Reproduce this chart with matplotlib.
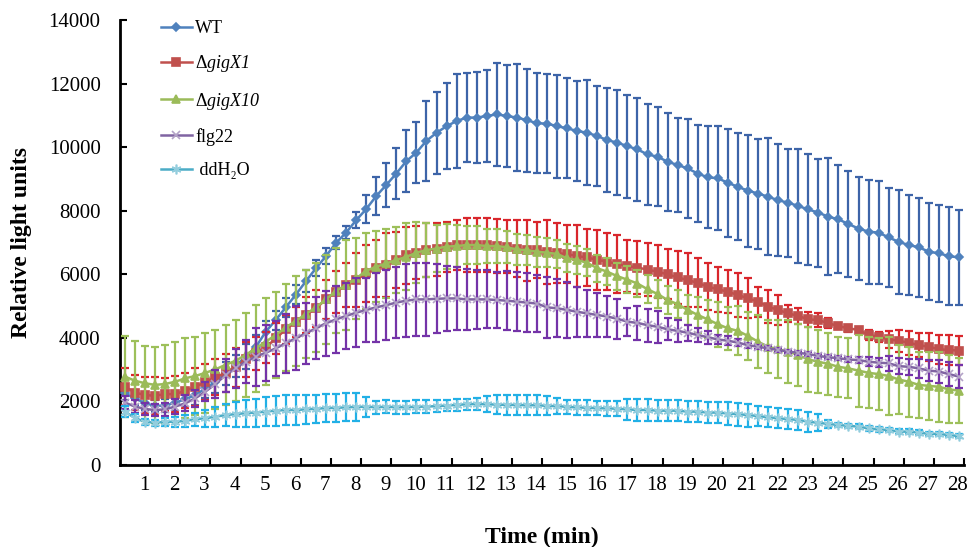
import numpy as np
import matplotlib
matplotlib.use("Agg")
from matplotlib import pyplot as plt

plt.rcParams['font.family'] = ['Liberation Serif', 'DejaVu Serif']
plt.rcParams['mathtext.fontset'] = 'custom'
plt.rcParams['mathtext.rm'] = 'Liberation Serif:italic'
plt.rcParams['mathtext.it'] = 'Liberation Serif:italic'

# readings every 20 s, 84 samples
time_min = (np.arange(84) + 0.5) / 3

wt = [2250, 2100, 1940, 1860, 1870, 1960, 2070, 2200, 2410, 2620, 2880, 3110, 3410, 3700,
      4190, 4560, 4960, 5360, 5780, 6190, 6570, 6990, 7310, 7700, 8050, 8460, 8810, 9170,
      9560, 9830, 10200, 10450, 10660, 10820, 10930, 10930, 10980, 11030, 10980, 10930,
      10850, 10750, 10740, 10660, 10590, 10510, 10450, 10350, 10220, 10140,
      10030, 9930, 9770, 9700, 9540, 9440, 9330, 9170, 9050, 9020, 8880, 8750, 8630, 8540,
      8440, 8330, 8250, 8150, 8040, 7940, 7810, 7730, 7580, 7440, 7340, 7310, 7160, 7020,
      6920, 6850, 6710, 6660, 6570, 6530]
wt_err = [200, 200, 200, 200, 200, 250, 250, 300, 300, 350, 350, 350, 400, 400, 350, 300,
          300, 300, 350, 250, 250, 200, 200, 250, 440, 600, 690, 790, 975, 970, 1250, 1280,
          1360, 1470, 1400, 1420, 1450, 1620, 1600, 1680, 1620, 1570, 1550, 1620, 1570, 1570,
          1650, 1570, 1630, 1650,
          1620, 1610, 1590, 1550, 1540, 1470, 1570, 1520, 1600, 1630, 1700, 1680, 1760, 1730,
          1840, 1760, 1700, 1800, 1750, 1700, 1840, 1700, 1660, 1630, 1630, 1610, 1550, 1630,
          1570, 1550, 1520, 1520, 1540, 1500]

gigx1 = [2460, 2280, 2200, 2180, 2230, 2230, 2340, 2460, 2610, 2760, 2900, 3070, 3320, 3510,
         3700, 3980, 4270, 4510, 4720, 4930, 5210, 5450, 5660, 5820, 6030, 6190, 6290, 6450,
         6600, 6680, 6760, 6780, 6870, 6920, 6920, 6920, 6920, 6890, 6870, 6810, 6760, 6760,
         6710, 6660, 6640, 6570, 6530, 6450, 6400, 6320,
         6260, 6210, 6150, 6080, 6000, 5900, 5820, 5730, 5610, 5530, 5450, 5350, 5240, 5140,
         4980, 4880, 4770, 4690, 4580, 4560, 4460, 4370, 4300, 4250, 4090, 4040, 3950, 3910,
         3850, 3770, 3720, 3640, 3620, 3600]
gigx1_err = [580, 560, 570, 590, 520, 560, 540, 600, 560, 560, 600, 620, 560, 520, 500, 480,
             460, 470, 560, 580, 610, 660, 680, 840, 890, 890, 1000, 890, 890, 840, 840, 840,
             790, 790, 840, 840, 840, 840, 840, 910, 960, 890, 1000, 940, 910, 980, 910, 940,
             890, 910,
             820, 840, 820, 840, 790, 840, 840, 770, 730, 710, 680, 680, 630, 470, 520, 470,
             260, 240, 240, 210, 160, 100, 100, 100, 160, 160, 270, 340, 380, 370, 440, 450,
             470, 460]

gigx10 = [2780, 2650, 2570, 2520, 2550, 2620, 2730, 2800, 2900, 3010, 3150, 3280, 3460, 3670,
          3880, 4090, 4330, 4530, 4750, 4960, 5210, 5480, 5660, 5870, 6110, 6240, 6340, 6450,
          6550, 6680, 6760, 6810, 6870, 6890, 6920, 6920, 6890, 6890, 6850, 6780, 6760, 6710,
          6680, 6640, 6500, 6450, 6360, 6190, 6080, 5940,
          5830, 5710, 5530, 5380, 5190, 5060, 4880, 4720, 4580, 4430, 4300, 4220, 4060, 3880,
          3720, 3640, 3570, 3460, 3320, 3250, 3180, 3090, 3040, 2970, 2900, 2860, 2800, 2690,
          2620, 2520, 2490, 2460, 2380, 2340]
gigx10_err = [1280, 1250, 1170, 1190, 1230, 1260, 1260, 1240, 1260, 1240, 1260, 1280, 1330,
              1360, 1360, 1360, 1360, 1410, 1370, 1410, 1390, 1340, 1410, 1280, 1200, 1120,
              1100, 1050, 1050, 950, 850, 750, 700, 650, 600, 600, 550, 550, 500, 500, 480,
              470, 460, 450, 440, 430, 420, 420, 420, 420,
              420, 430, 440, 450, 450, 440, 470, 580, 600, 710, 680, 770, 760, 840, 840, 910,
              990, 990, 1020, 1000, 980, 940, 940, 1130, 1120, 1130, 1230, 1070, 1100, 1050,
              1070, 1100, 1070, 1030]

flg22 = [1960, 1840, 1760, 1730, 1750, 1840, 1940, 2100, 2310, 2550, 2830, 3040, 3250, 3410,
         3530, 3670, 3830, 3990, 4140, 4300, 4460, 4580, 4690, 4790, 4880, 4960, 5030, 5110,
         5170, 5210, 5210, 5230, 5240, 5240, 5210, 5210, 5210, 5190, 5170, 5140, 5110, 5080,
         4960, 4930, 4880, 4820, 4770, 4720, 4670, 4600,
         4510, 4470, 4400, 4350, 4270, 4220, 4160, 4090, 4020, 3950, 3910, 3850, 3770, 3720,
         3670, 3620, 3570, 3530, 3490, 3430, 3390, 3360, 3320, 3300, 3250, 3220, 3200, 3110,
         3090, 3040, 2970, 2940, 2860, 2780]
flg22_err = [200, 200, 200, 200, 210, 230, 250, 260, 300, 440, 520, 610, 680, 910, 890, 860,
             930, 1000, 950, 970, 1020, 1050, 1040, 1080, 1010, 1090, 1100, 1120, 1140, 1150,
             1150, 1080, 1020, 1000, 970, 930, 910, 890, 920, 920, 940, 900, 970, 910, 890,
             790, 730, 680, 650, 630,
             440, 540, 520, 500, 340, 340, 260, 230, 200, 150, 150, 100, 80, 70, 60, 60, 60,
             60, 60, 60, 60, 60, 90, 90, 140, 150, 230, 260, 260, 310, 340, 370, 370, 370]

ddh2o = [1680, 1470, 1360, 1330, 1360, 1360, 1390, 1440, 1470, 1520, 1570, 1600, 1630, 1650,
         1680, 1710, 1730, 1730, 1750, 1770, 1790, 1800, 1810, 1830, 1830, 1820, 1830, 1820,
         1820, 1830, 1840, 1850, 1870, 1890, 1910, 1920, 1910, 1900, 1890, 1890, 1880, 1880,
         1860, 1850, 1830, 1810, 1800, 1790, 1780, 1770,
         1750, 1730, 1730, 1710, 1710, 1710, 1680, 1680, 1650, 1650, 1620, 1600, 1570, 1540,
         1500, 1470, 1440, 1420, 1360, 1330, 1290, 1260, 1230, 1210, 1150, 1120, 1100, 1050,
         1050, 1020, 980, 980, 940, 910]
ddh2o_err = [170, 120, 100, 100, 120, 150, 180, 210, 260, 310, 350, 390, 420, 440, 460, 470,
             470, 460, 460, 440, 440, 440, 440, 440, 320, 200, 200, 200, 200, 200, 190, 180,
             180, 180, 180, 200, 250, 300, 320, 320, 320, 320, 300, 250, 230, 230, 230, 230,
             230, 230,
             340, 340, 340, 340, 340, 340, 340, 340, 340, 340, 360, 360, 360, 310, 310, 310,
             310, 310, 310, 260, 130, 70, 70, 70, 70, 70, 70, 70, 70, 70, 70, 70, 70, 70]

labels = ['WT', 'Δ$gigX1$', 'Δ$gigX10$', 'flg22', ' ddH\u2082O']
means = [wt, gigx1, gigx10, flg22, ddh2o]
errs = [wt_err, gigx1_err, gigx10_err, flg22_err, ddh2o_err]
line_colors = ['#4F81BD', '#C0504D', '#9BBB59', '#8064A2', '#4BACC6']
bar_colors = ['#3D64A8', '#D9262C', '#9DC05A', '#7433A8', '#22B0E6']
marker_face = ['#4F81BD', '#C0504D', '#9BBB59', '#B3A2C7', '#93CDDD']
markers = ['D', 's', '^', 'x', (6, 2, 0)]
msizes = [4, 6, 6, 6, 7]

fig = plt.figure(figsize=(9.68, 5.47), dpi=100)
ax = fig.add_axes([120/968, 1-465/547, 844/968, 445/547])

for k in range(5):
    ax.errorbar(time_min, means[k], yerr=errs[k], fmt='none', ecolor=bar_colors[k],
                elinewidth=1.6, capsize=2.6, capthick=1.6, zorder=2+2*k)
    ax.plot(time_min, means[k], color=line_colors[k], lw=1.8, marker=markers[k],
            ms=msizes[k], mfc=marker_face[k], mec=marker_face[k], mew=1.2,
            label=labels[k], zorder=3+2*k)

ax.set_xlim(0, 28)
ax.set_ylim(0, 14000)
ax.set_yticks(range(0, 14001, 2000))
minutes = list(range(1, 29))
ax.set_xticks(minutes)
ax.set_xticklabels([])
ax.set_xticks([m - 0.2 for m in minutes], [str(m) for m in minutes], minor=True)
ax.tick_params(axis='x', which='major', direction='in', length=5, width=1.5)
ax.tick_params(axis='x', which='minor', length=0, pad=8, labelsize=15)
ax.tick_params(axis='y', direction='in', length=5, width=1.5, pad=14, labelsize=15)

for s in ['top', 'right']:
    ax.spines[s].set_visible(False)
for s in ['left', 'bottom']:
    ax.spines[s].set_linewidth(2)

ax.set_xlabel('Time (min)', fontsize=17, fontweight='bold', labelpad=23)
ax.set_ylabel('Relative light units', fontsize=17, fontweight='bold', labelpad=12)

ax.legend(loc='upper left', bbox_to_anchor=(0.038, 1.02), frameon=False, fontsize=13,
          handlelength=1.7, handletextpad=0.2, labelspacing=0.9, borderpad=0)

plt.savefig('out.png', dpi=100)
